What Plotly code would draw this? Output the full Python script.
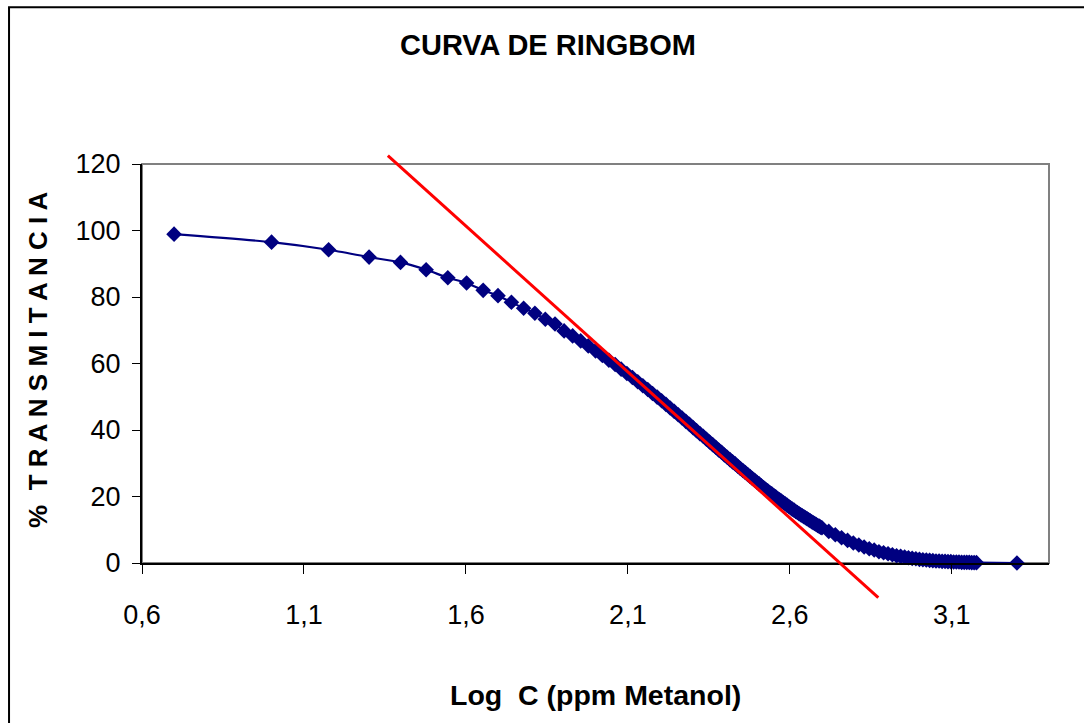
import numpy as np
import plotly.graph_objects as go

# Concentrations (ppm Metanol) (x axis is log C)
conc = [5, 10, 15, 20, 25, 30, 35, 40, 45, 50,
        55, 60, 65, 70, 75, 80, 85, 90, 95, 100,
        105, 110, 115, 120, 125, 130, 135, 140, 145, 150,
        155, 160, 165, 170, 175, 180, 185, 190, 195, 200,
        205, 210, 215, 220, 225, 230, 235, 240, 245, 250,
        255, 260, 265, 270, 275, 280, 285, 290, 295, 300,
        305, 310, 315, 320, 325, 330, 335, 340, 345, 350,
        355, 360, 365, 370, 375, 380, 385, 390, 395, 400,
        405, 410, 415, 420, 425, 430, 435, 440, 445, 450,
        455, 460, 465, 470, 475, 480, 485, 490, 495, 500,
        525, 550, 575, 600, 625, 650, 675, 700, 725, 750,
        775, 800, 825, 850, 875, 900, 925, 950, 975, 1000,
        1025, 1050, 1075, 1100, 1125, 1150, 1175, 1200, 1225, 1250,
        1275, 1300, 1325, 1350, 1375, 1400, 1425, 1450, 1475, 1500,
        2000]

transmitancia = [98.9, 96.5, 94.2, 92.0, 90.4, 88.2, 85.8, 84.2, 82.0, 80.4,
                 78.4, 76.6, 75.1, 73.3, 71.9, 69.8, 68.3, 66.8, 65.3, 63.8,
                 62.4, 61.0, 59.7, 58.3, 57.0, 55.8, 54.5, 53.3, 52.2, 51.0,
                 49.9, 48.8, 47.7, 46.6, 45.6, 44.6, 43.6, 42.6, 41.7, 40.7,
                 39.8, 38.9, 38.1, 37.2, 36.4, 35.6, 34.8, 34.0, 33.3, 32.5,
                 31.8, 31.1, 30.4, 29.8, 29.1, 28.4, 27.8, 27.2, 26.6, 26.0,
                 25.4, 24.9, 24.3, 23.8, 23.2, 22.7, 22.2, 21.7, 21.2, 20.8,
                 20.3, 19.9, 19.4, 19.0, 18.6, 18.2, 17.8, 17.4, 17.0, 16.6,
                 16.2, 15.9, 15.5, 15.2, 14.8, 14.5, 14.2, 13.9, 13.6, 13.3,
                 13.0, 12.7, 12.4, 12.1, 11.9, 11.6, 11.3, 11.1, 10.8, 10.6,
                 9.5, 8.5, 7.6, 6.8, 6.0, 5.4, 4.8, 4.3, 3.9, 3.4,
                 3.1, 2.8, 2.5, 2.2, 2.0, 1.8, 1.6, 1.4, 1.3, 1.1,
                 1.0, 0.9, 0.8, 0.7, 0.6, 0.6, 0.5, 0.5, 0.4, 0.4,
                 0.3, 0.3, 0.3, 0.2, 0.2, 0.2, 0.2, 0.1, 0.1, 0.1,
                 0.0]

log_c = np.log10(conc)

# Tangent (red) line end points, in data units
tangent_x = [1.359, 2.873]
tangent_y = [122.5, -10.4]

x_ticks = [0.6, 1.1, 1.6, 2.1, 2.6, 3.1]
x_ticktext = ["0,6", "1,1", "1,6", "2,1", "2,6", "3,1"]
y_ticks = [0, 20, 40, 60, 80, 100, 120]
x_range = [0.6, 3.4]
y_range = [0, 120]

FONT = "Liberation Sans, Arial, sans-serif"

fig = go.Figure()
fig.add_trace(go.Scatter(
    x=log_c, y=transmitancia, mode="lines+markers",
    line=dict(color="#000080", width=2.2, shape="spline", smoothing=0.6),
    marker=dict(symbol="diamond", size=12, color="#000080"),
    showlegend=False, cliponaxis=False,
))

def to_px(v):
    return (v - x_range[0]) / (x_range[1] - x_range[0])

def to_py(v):
    return (v - y_range[0]) / (y_range[1] - y_range[0])

shapes = [
    # plot-area frame (gray)
    dict(type="rect", xref="paper", yref="paper", x0=0, y0=0, x1=1, y1=1,
         line=dict(color="#808080", width=2), layer="below"),
    # outer chart border
    dict(type="rect", xref="paper", yref="paper", x0=-0.1466, y0=-0.6, x1=1.3, y1=1.393,
         line=dict(color="black", width=2), layer="below"),
    # tangent line
    dict(type="line", xref="paper", yref="paper",
         x0=to_px(tangent_x[0]), y0=to_py(tangent_y[0]),
         x1=to_px(tangent_x[1]), y1=to_py(tangent_y[1]),
         line=dict(color="#FF0000", width=3), layer="above"),
]

fig.update_layout(
    width=1084, height=723,
    margin=dict(l=142, r=35, t=164, b=160, pad=0),
    paper_bgcolor="white", plot_bgcolor="white",
    shapes=shapes,
    title=dict(text="<b>CURVA DE RINGBOM</b>", x=0.5055, xref="container", xanchor="center",
               y=1 - 45 / 723, yref="container", yanchor="middle",
               font=dict(family=FONT, size=29, color="black")),
    xaxis=dict(range=x_range, tickvals=x_ticks, ticktext=x_ticktext,
               showgrid=False, zeroline=False, showline=True, linecolor="black", linewidth=2,
               ticks="outside", ticklen=9, tickwidth=1, tickcolor="black",
               ticklabelstandoff=18,
               tickfont=dict(family=FONT, size=27, color="black")),
    yaxis=dict(range=y_range, tickvals=y_ticks,
               showgrid=False, zeroline=False, showline=True, linecolor="black", linewidth=2,
               ticks="outside", ticklen=8, tickwidth=1, tickcolor="black",
               ticklabelstandoff=6,
               tickfont=dict(family=FONT, size=27, color="black")),
    annotations=[
        dict(text="<b>Log  C (ppm Metanol)</b>", xref="paper", yref="paper",
             x=0.5, y=-0.33, xanchor="center", yanchor="middle", showarrow=False,
             font=dict(family=FONT, size=28.5, color="black")),
        dict(text="<b>%  T R A N S M I T A N C I A</b>", xref="paper", yref="paper",
             x=-0.1147, y=0.509, xanchor="center", yanchor="middle", showarrow=False,
             textangle=-90, font=dict(family=FONT, size=26, color="black")),
    ],
)

fig.write_html("out.html", config={"displayModeBar": False},
               post_script="document.body.style.margin='0';")
